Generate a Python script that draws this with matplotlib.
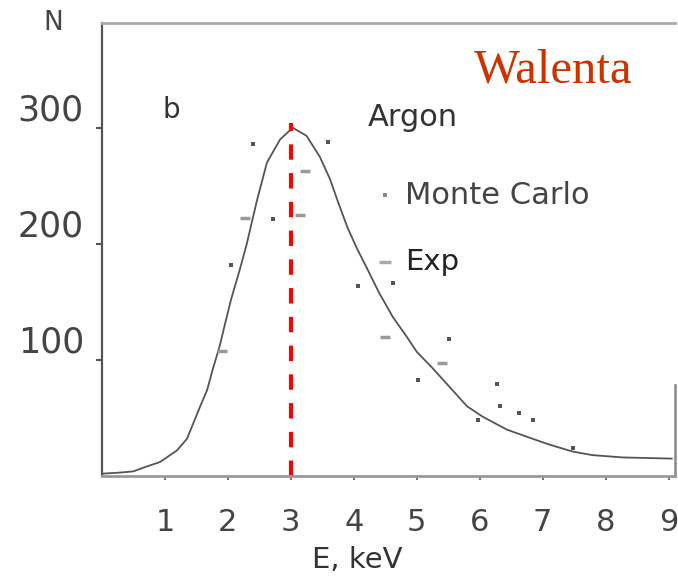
import matplotlib.pyplot as plt

# fitted curve
E_curve = [0.0, 0.3, 0.5, 0.7, 0.92, 1.19, 1.35, 1.44, 1.56, 1.67, 1.76, 1.87, 1.95, 2.05,
           2.19, 2.3, 2.46, 2.62, 2.83, 3.03, 3.25, 3.46, 3.62, 3.75, 3.9, 4.05, 4.2,
           4.4, 4.62, 4.84, 5.0, 5.25, 5.5, 5.8, 6.05, 6.43, 6.79, 7.11, 7.48, 7.79,
           8.27, 9.05]
N_curve = [2, 3, 4, 8, 12, 22, 32, 44, 60, 74, 92, 112, 130, 152,
           178, 200, 237, 270, 290, 300, 293, 275, 256, 236, 214, 196, 180,
           158, 137, 120, 107, 93, 78, 60, 51, 40, 33, 27, 21, 18,
           16, 15]

# Monte Carlo points
E_mc = [2.4, 3.59, 2.05, 2.71, 4.62, 5.52, 6.27, 6.84, 6.32, 5.97, 7.48, 6.63, 4.06, 5.02]
N_mc = [286, 288, 182, 221, 166, 118, 79, 48, 60, 48, 24, 54, 164, 83]

# experimental points
E_exp = [3.22, 2.27, 3.15, 1.9, 5.4, 4.5]
N_exp = [263, 222, 225, 108, 97, 120]

E_peak = 3.0
N_peak = 304

fig = plt.figure(figsize=(6.78, 5.76), dpi=100)
ax = fig.add_axes([0.1504, 0.1736, 0.845, 0.786])

ax.plot(E_curve, N_curve, color='#555555', lw=1.3)
ax.plot(E_mc, N_mc, ls='none', marker='s', ms=2.5, color='#555555', mew=0)
ax.plot(E_exp, N_exp, ls='none', marker='_', ms=7, mew=2.5, color='#999999')
ax.vlines(E_peak, 0, N_peak, colors='red', lw=3, linestyles=(0, (3.7, 3.2)))

ax.set_xlim(0, 9.1)
ax.set_ylim(0, 390)
ax.set_xticks(range(1, 10))
ax.set_yticks([100, 200, 300])
ax.set_yticklabels(['100', '200', '300'])

ax.spines['right'].set_visible(False)
ax.spines['left'].set_color('#555555')
ax.spines['left'].set_linewidth(1.6)
ax.spines['top'].set_color('#aaaaaa')
ax.spines['top'].set_linewidth(2)
ax.spines['bottom'].set_color('#999999')
ax.spines['bottom'].set_linewidth(2)
ax.plot([9.1, 9.1], [0, 78], color='#888888', lw=1.8, clip_on=False)

ax.tick_params(axis='y', length=4, width=1.5, color='#555555', pad=9,
               labelsize=25, labelcolor='#444444')
ax.tick_params(axis='x', length=3, width=1.5, color='#777777', pad=20,
               labelsize=22, labelcolor='#444444')
for lab in ax.get_yticklabels():
    lab.set_va('bottom')

fig.text(0.078, 0.96, 'N', fontsize=19, color='#444444', ha='center', va='center')
fig.text(0.527, 0.027, 'E, keV', fontsize=21, color='#333333', ha='center', va='center')

ax.text(1.1, 315, 'b', fontsize=20, color='#333333', ha='center', va='center')
ax.text(4.94, 309, 'Argon', fontsize=22, color='#333333', ha='center', va='center')
ax.plot([4.49], [242], ls='none', marker='s', ms=3, color='#888888', mew=0)
ax.text(4.81, 242, 'Monte Carlo', fontsize=22, color='#444444', ha='left', va='center')
ax.plot([4.5], [184], ls='none', marker='_', ms=8, mew=2.5, color='#aaaaaa')
ax.text(4.81, 184, 'Exp', fontsize=21, color='#222222', ha='left', va='center')

fig.text(0.816, 0.878, 'Walenta', fontsize=35, color='#CC3300',
         family='Liberation Serif', ha='center', va='center')

fig.savefig('out.png', dpi=100)
